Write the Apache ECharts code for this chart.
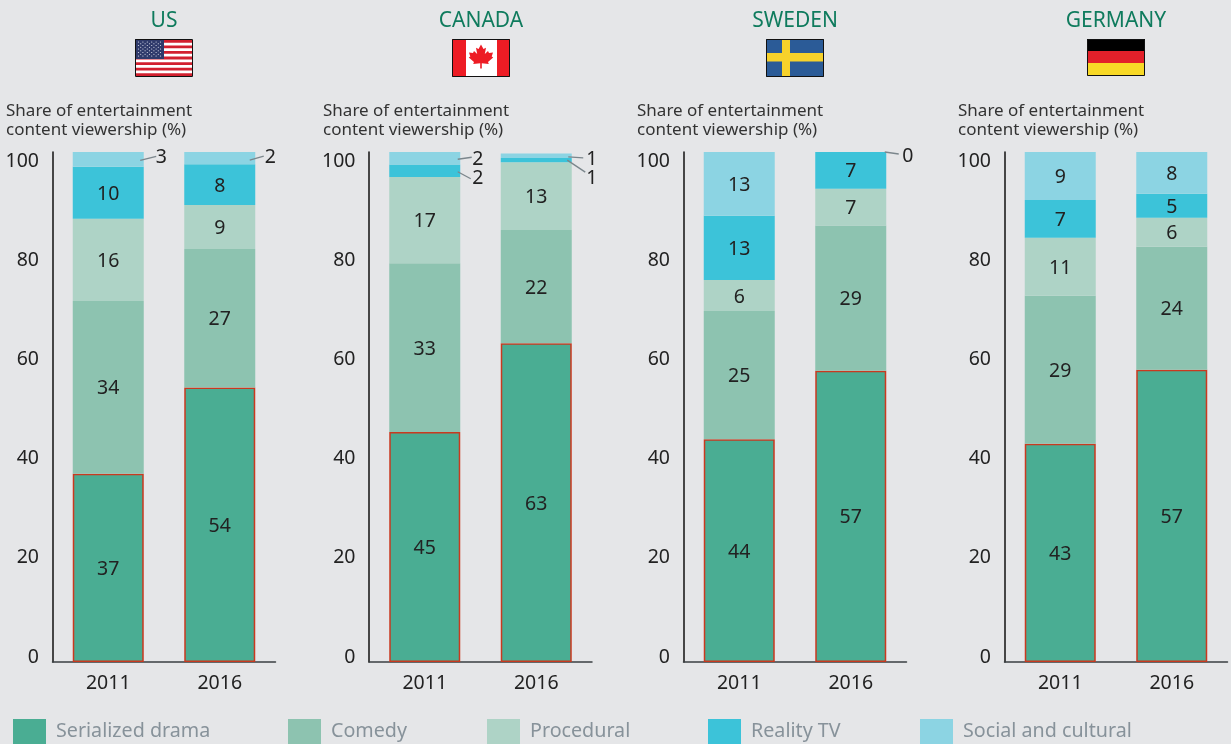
<!DOCTYPE html>
<html><head><meta charset="utf-8">
<style>html,body{margin:0;padding:0;background:#e5e6e8;overflow:hidden}#c{width:1231px;height:744px}</style>
<script src="https://cdn.jsdelivr.net/npm/echarts@6/dist/echarts.min.js"></script>
</head><body><div id="c"></div>
<script>
const years = ['2011','2016'];
const countries = ['US','CANADA','SWEDEN','GERMANY'];
const seriesNames = ['Serialized drama','Comedy','Procedural','Reality TV','Social and cultural'];
// values per series: [US 2011, US 2016], [CA ...], [SE ...], [DE ...]
const serializedDrama = [[36.9,53.8],[45.1,62.5],[43.7,57.1],[42.8,57.3]];
const comedy          = [[33.9,27.2],[33.1,22.2],[25.1,28.5],[29.0,24.1]];
const procedural      = [[16.1,8.6],[16.9,13.3],[6.1,7.2],[11.4,5.7]];
const realityTV       = [[10.2,8.0],[2.45,0.8],[12.6,7.2],[7.4,4.7]];
const socialCultural  = [[2.9,2.4],[2.45,0.9],[12.5,0],[9.4,8.2]];
const allValues = [serializedDrama,comedy,procedural,realityTV,socialCultural];
const yTicks = {min:0,max:100,interval:20};

const FONT = '"Noto Sans"';
const NUM = 19.5;
const colors = ['#4aad93','#8dc3b0','#aed3c6','#3cc3d9','#8cd4e3'];
const gridLeft = [52.5,369,683.5,1004.5];
const gridW = 223, gridTop = 152, gridH = 510;
const titleX = [164,481,795,1116];
const subX = [6,323,637,958];
const legendX = [13,288,487,708,920];
// outside labels: country, year, series, leader line [x1,y1,x2,y2] and text [x,y] offset from segment centre
const callouts = [
 [0,0,4,[32,1,48,-3],[53,-1.5]],
 [0,1,4,[30,2,44,-2],[50.5,-1]],
 [1,0,4,[33,1,47,-1],[53,1]],
 [1,0,3,[33,1,46,8],[53,7.5]],
 [1,1,4,[32,1,47,2],[55.5,3.5]],
 [1,1,3,[31,0,49,12],[55.5,18]],
 [2,1,4,[34,0,48,2],[57,4]]
];
const hasCallout = (c,y,s)=>callouts.some(k=>k[0]===c&&k[1]===y&&k[2]===s);

const grid=[],xAxis=[],yAxis=[],series=[],title=[],legend=[];
countries.forEach((name,c)=>{
  grid.push({left:gridLeft[c],top:gridTop,width:gridW,height:gridH});
  xAxis.push({type:'category',gridIndex:c*2,data:years,
    axisLine:{lineStyle:{color:'#3a3f42',width:1.5}},axisTick:{show:false},
    axisLabel:{color:'#222',fontFamily:FONT,fontSize:NUM,margin:11}});
  yAxis.push({type:'value',gridIndex:c*2,min:yTicks.min,max:yTicks.max,interval:yTicks.interval,
    axisLine:{show:true,lineStyle:{color:'#111',width:1.5}},axisTick:{show:false},
    axisLabel:{show:false},splitLine:{show:false}});
  // tick-label grid (labels sit inset from the bar scale in the reference)
  grid.push({left:gridLeft[c],top:161,width:gridW,height:496});
  xAxis.push({type:'category',gridIndex:c*2+1,data:years,show:false});
  yAxis.push({type:'value',gridIndex:c*2+1,min:yTicks.min,max:yTicks.max,interval:yTicks.interval,
    axisLine:{show:false},axisTick:{show:false},splitLine:{show:false},
    axisLabel:{color:'#222',fontFamily:FONT,fontSize:NUM,margin:13.5,align:'right'}});
  allValues.forEach((vals,s)=>{
    series.push({type:'bar',name:seriesNames[s],stack:'s'+c,xAxisIndex:c*2,yAxisIndex:c*2,
      barWidth:71,silent:true,animation:false,
      itemStyle:s===0?{color:colors[s],borderColor:'#c9391f',borderWidth:1.5}:{color:colors[s]},
      data:vals[c].map((v,y)=>({value:v,label:{
        show:!hasCallout(c,y,s),position:'inside',offset:[0,1.5],color:'#222',fontFamily:FONT,fontSize:NUM,
        formatter:p=>String(Math.round(p.value))}}))});
  });
  title.push({text:name,left:titleX[c],top:11,padding:0,textAlign:'center',
    textStyle:{color:'#0f7b5d',fontFamily:FONT,fontSize:21,fontWeight:400}});
  title.push({text:'Share of entertainment\ncontent viewership (%)',left:subX[c],top:102,padding:0,
    textStyle:{color:'#333',fontFamily:FONT,fontSize:17,fontWeight:400,lineHeight:19}});
});
countries.forEach((name,c)=>{
  const items = callouts.filter(k=>k[0]===c);
  if(!items.length) return;
  const data = items.map(k=>{
    let below=0; for(let s=0;s<k[2];s++) below+=allValues[s][c][k[1]];
    const v=allValues[k[2]][c][k[1]];
    return {value:[k[1],below+v/2,Math.round(v)],line:k[3],txt:k[4]};
  });
  series.push({type:'custom',xAxisIndex:c*2,yAxisIndex:c*2,silent:true,animation:false,z:5,clip:false,
    encode:{x:0,y:1},data,
    renderItem:(params,api)=>{
      const p=api.coord([api.value(0),api.value(1)]);
      const d=data[params.dataIndex];
      return {type:'group',children:[
        {type:'line',shape:{x1:p[0]+d.line[0],y1:p[1]+d.line[1],x2:p[0]+d.line[2],y2:p[1]+d.line[3]},
         style:{stroke:'#7b868c',lineWidth:1.3}},
        {type:'text',style:{x:p[0]+d.txt[0],y:p[1]+d.txt[1],text:String(api.value(2)),fill:'#222',
          font:NUM+'px '+FONT,textAlign:'center',textVerticalAlign:'middle'}}
      ]};
    }});
});
seriesNames.forEach((n,i)=>{
  legend.push({data:[n],left:legendX[i],top:719,itemWidth:33,itemHeight:25,itemGap:0,padding:0,selectedMode:false,
    icon:'rect',itemStyle:{borderWidth:0,color:colors[i]},
    textStyle:{color:'#87929a',fontFamily:FONT,fontSize:19.7,padding:[6,0,0,5]}});
});

// flags
const g=[];
const R=(x,y,w,h,fill)=>g.push({type:'rect',silent:true,shape:{x,y,width:w,height:h},style:{fill}});
const B=(x,y,w,h)=>g.push({type:'rect',silent:true,z:10,shape:{x:x+.5,y:y+.5,width:w-1,height:h-1},style:{fill:'none',stroke:'#111',lineWidth:1}});
(function(){const x=135,y=39,w=58,h=38;R(x,y,w,h,'#fff');
 for(let i=0;i<13;i+=2)R(x,y+1+i*36/13,w,36/13,'#d2202f');
 R(x,y,29,20,'#2f3a6b');
 for(let r=0;r<9;r++){const n=r%2?5:6;for(let k=0;k<n;k++)
  g.push({type:'circle',silent:true,shape:{cx:x+3.5+(r%2?2.2:0)+k*4.4,cy:y+3+r*1.75,r:.6},style:{fill:'#dfe2ee'}});}
 B(x,y,w,h);})();
(function(){const x=452,y=39,w=58,h=38;R(x,y,w,h,'#fff');R(x,y,14,h,'#ed1c24');R(x+45,y,13,h,'#ed1c24');
 const half=[[0,-12],[2.5,-7.5],[5,-8.8],[3.8,-2.5],[7,-5.5],[8,-3.5],[12,-4],[10.7,0],[12.2,1],[7,5.5],[7.8,7.5],[0.8,6.8],[0.8,12]];
 const pts=half.concat(half.slice().reverse().map(p=>[-p[0],p[1]]));
 g.push({type:'polygon',silent:true,shape:{points:pts.map(p=>[481+p[0],56.5+p[1]])},style:{fill:'#ed1c24'}});
 B(x,y,w,h);})();
(function(){const x=766,y=39,w=58,h=38;R(x,y,w,h,'#2b5b97');R(782,y,8,h,'#f7d22b');R(x,53,w,8.5,'#f7d22b');B(x,y,w,h);})();
(function(){const x=1087,y=39,w=58,h=37;R(x,y,w,12.5,'#000');R(x,51,w,12,'#e3202a');R(x,63,w,13,'#f8d927');B(x,y,w,h);})();

const chart=echarts.init(document.getElementById('c'),null,{renderer:'canvas',width:1231,height:744});
chart.setOption({backgroundColor:'#e5e6e8',animation:false,tooltip:{show:false},title,legend,grid,xAxis,yAxis,series,graphic:g});
</script></body></html>
